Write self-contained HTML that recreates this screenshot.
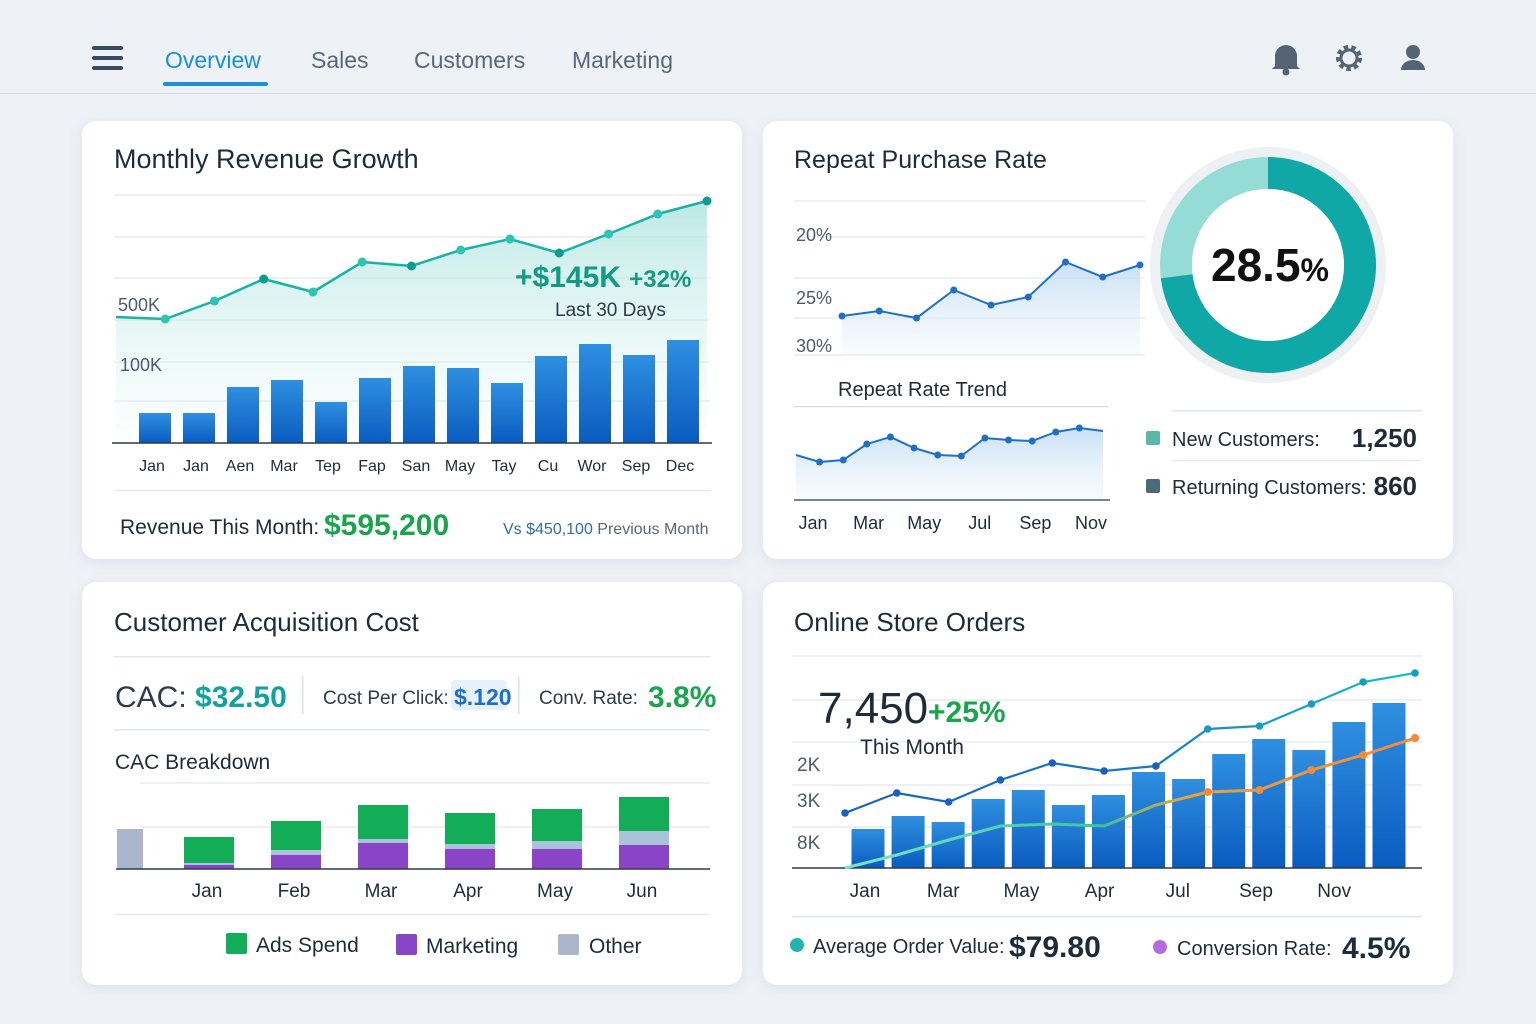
<!DOCTYPE html>
<html><head><meta charset="utf-8"><style>
html,body{margin:0;padding:0;width:1536px;height:1024px;overflow:hidden;background:#eef1f6;font-family:"Liberation Sans",sans-serif}
svg text{font-family:"Liberation Sans",sans-serif}
</style></head><body>
<svg id="s" width="1536" height="1024" viewBox="0 0 1536 1024" xmlns="http://www.w3.org/2000/svg">
<defs>
<filter id="sh" x="-5%" y="-5%" width="110%" height="115%"><feDropShadow dx="0" dy="3" stdDeviation="6" flood-color="#8a9ab5" flood-opacity="0.18"/></filter>
<linearGradient id="bar" x1="0" y1="0" x2="0" y2="1"><stop offset="0" stop-color="#2f8fe0"/><stop offset="1" stop-color="#0a5cc0"/></linearGradient>
<linearGradient id="tealArea" x1="0" y1="0" x2="0" y2="1"><stop offset="0" stop-color="#9fe0da" stop-opacity="0.7"/><stop offset="1" stop-color="#e6f6f5" stop-opacity="0.2"/></linearGradient>
<linearGradient id="blueArea" x1="0" y1="0" x2="0" y2="1"><stop offset="0" stop-color="#b9d9f3" stop-opacity="0.8"/><stop offset="1" stop-color="#e8f2fb" stop-opacity="0.3"/></linearGradient>
<linearGradient id="ordLine2" gradientUnits="userSpaceOnUse" x1="845" y1="0" x2="1415" y2="0"><stop offset="0" stop-color="#7fe3c9"/><stop offset="0.45" stop-color="#3cc3a0"/><stop offset="0.6" stop-color="#e9a23a"/><stop offset="1" stop-color="#f28a3c"/></linearGradient>
<linearGradient id="ordLine1" gradientUnits="userSpaceOnUse" x1="845" y1="0" x2="1415" y2="0"><stop offset="0" stop-color="#1b5fc0"/><stop offset="0.5" stop-color="#1479c4"/><stop offset="1" stop-color="#19c2b8"/></linearGradient>
</defs>
<!-- nav -->
<g fill="#3a4a60"><rect x="92" y="46" width="31" height="4" rx="2"/><rect x="92" y="56" width="31" height="4" rx="2"/><rect x="92" y="66" width="31" height="4" rx="2"/></g>
<text x="165" y="68" font-size="23" fill="#1a8fd6">Overview</text>
<rect x="163" y="82" width="105" height="4" rx="2" fill="#1a8fd6"/>
<text x="311" y="68" font-size="23" fill="#5a6778">Sales</text>
<text x="414" y="68" font-size="23" fill="#5a6778">Customers</text>
<text x="572" y="68" font-size="23" fill="#5a6778">Marketing</text>
<g fill="#556377"><path d="M1275 66 L1275 56 A11 11 0 0 1 1297 56 L1297 66 L1300 69 L1272 69 Z"/><circle cx="1286" cy="72" r="3.5"/></g>
<g><circle cx="1349" cy="58" r="10" fill="none" stroke="#556377" stroke-width="6" stroke-dasharray="4 3"/><circle cx="1349" cy="58" r="8" fill="none" stroke="#556377" stroke-width="3"/></g>
<g fill="#556377"><circle cx="1413" cy="52" r="7"/><path d="M1401 70 A12 10 0 0 1 1425 70 Z"/></g>
<rect x="0" y="93" width="1536" height="1" fill="#d5dbe4"/>

<!-- cards -->
<rect x="82" y="121" width="660" height="438" rx="14" fill="#fff" filter="url(#sh)"/>
<rect x="763" y="121" width="690" height="438" rx="14" fill="#fff" filter="url(#sh)"/>
<rect x="82" y="582" width="660" height="403" rx="14" fill="#fff" filter="url(#sh)"/>
<rect x="763" y="582" width="690" height="403" rx="14" fill="#fff" filter="url(#sh)"/>

<!-- card 1 -->
<text x="114" y="168" font-size="27" fill="#1e2b3a">Monthly Revenue Growth</text>
<g id="revGrid" stroke="#e3e8ef" stroke-width="1.2"></g>
<g id="rev"></g>
<text x="118" y="311" font-size="18" fill="#4d5b6d">500K</text>
<text x="120" y="371" font-size="18" fill="#4d5b6d">100K</text>
<text x="515" y="287" font-size="30" font-weight="bold" fill="#129a85">+$145K <tspan font-size="24">+32%</tspan></text>
<text x="555" y="316" font-size="19" fill="#2c3a4c">Last 30 Days</text>
<rect x="114" y="490" width="597" height="1.2" fill="#e3e8ef"/>
<text x="120" y="534" font-size="21" fill="#1e2b3a">Revenue This Month:</text>
<text x="324" y="535" font-size="30" font-weight="bold" fill="#1aa44c">$595,200</text>
<text x="503" y="534" font-size="16" fill="#2f6f9a">Vs  $450,100  <tspan fill="#5a6778">Previous Month</tspan></text>

<!-- card 2 -->
<text x="794" y="168" font-size="25" fill="#1e2b3a">Repeat Purchase Rate</text>
<g id="repGrid" stroke="#e3e8ef" stroke-width="1.2"></g>
<g id="rep"></g>
<text x="796" y="241" font-size="18" fill="#4d5b6d">20%</text>
<text x="796" y="304" font-size="18" fill="#4d5b6d">25%</text>
<text x="796" y="352" font-size="18" fill="#4d5b6d">30%</text>
<text x="838" y="396" font-size="20" fill="#1e2b3a">Repeat Rate Trend</text>
<rect x="794" y="406" width="315" height="1.2" fill="#d9dfe7"/>
<g id="trend"></g>
<g>
<circle cx="1268" cy="265" r="113" fill="none" stroke="#eef1f4" stroke-width="10"/>
<circle id="donutBg" cx="1268" cy="265" r="92" fill="none" stroke="#95dcd7" stroke-width="32"/>
<circle id="donutArc" cx="1268" cy="265" r="92" fill="none" stroke="#10a8a6" stroke-width="32" transform="rotate(-90 1268 265)"/>
<circle cx="1268" cy="265" r="76" fill="#fff"/>
</g>
<text x="1270" y="281" font-size="46" font-weight="bold" fill="#111" text-anchor="middle">28.5<tspan font-size="32">%</tspan></text>
<rect x="1172" y="410" width="250" height="1.5" fill="#e3e8ef"/>
<rect x="1172" y="460" width="250" height="1.2" fill="#e3e8ef"/>
<rect x="1146" y="431" width="14" height="14" rx="2" fill="#5bb8a8"/>
<text x="1172" y="446" font-size="20" fill="#1e2b3a">New Customers:</text>
<text x="1417" y="447" font-size="26" font-weight="bold" fill="#1e2b3a" text-anchor="end">1,250</text>
<rect x="1146" y="479" width="14" height="14" rx="2" fill="#4a6b78"/>
<text x="1172" y="494" font-size="20" fill="#1e2b3a">Returning Customers:</text>
<text x="1417" y="495" font-size="26" font-weight="bold" fill="#1e2b3a" text-anchor="end">860</text>

<!-- card 3 -->
<text x="114" y="631" font-size="26" fill="#1e2b3a">Customer Acquisition Cost</text>
<rect x="114" y="656" width="596" height="1.5" fill="#e3e8ef"/>
<text x="115" y="707" font-size="30" fill="#2c3a4c">CAC: <tspan font-weight="bold" fill="#12a0a0">$32.50</tspan></text>
<rect x="302" y="676" width="1.5" height="38" fill="#dde3ea"/>
<text x="323" y="704" font-size="19" fill="#2c3a4c">Cost Per Click:</text>
<rect x="451" y="680" width="56" height="30" rx="4" fill="#e8f1fb"/>
<text x="454" y="705" font-size="23" font-weight="bold" fill="#1a6fc8">$.120</text>
<rect x="518" y="676" width="1.5" height="38" fill="#dde3ea"/>
<text x="539" y="704" font-size="19" fill="#2c3a4c">Conv. Rate:</text>
<text x="648" y="707" font-size="30" font-weight="bold" fill="#1aa44c">3.8%</text>
<rect x="114" y="729" width="596" height="1.5" fill="#e3e8ef"/>
<text x="115" y="769" font-size="21" fill="#1e2b3a">CAC Breakdown</text>
<g id="cacGrid" stroke="#e3e8ef" stroke-width="1.2"></g>
<g id="cac"></g>
<rect x="114" y="914" width="596" height="1.2" fill="#e3e8ef"/>
<rect x="226" y="933" width="21" height="21" rx="2" fill="#14ad57"/>
<text x="256" y="952" font-size="21" fill="#1e2b3a">Ads Spend</text>
<rect x="396" y="934" width="21" height="21" rx="2" fill="#8a44c8"/>
<text x="426" y="953" font-size="21" fill="#1e2b3a">Marketing</text>
<rect x="558" y="934" width="21" height="21" rx="2" fill="#a9b6cc"/>
<text x="589" y="953" font-size="21" fill="#1e2b3a">Other</text>

<!-- card 4 -->
<text x="794" y="631" font-size="26" fill="#1e2b3a">Online Store Orders</text>
<g id="ordGrid" stroke="#e3e8ef" stroke-width="1.2"></g>
<g id="ord"></g>
<text x="818" y="723" font-size="44" fill="#1e2b3a">7,450</text>
<text x="928" y="722" font-size="30" font-weight="bold" fill="#1aa44c">+25%</text>
<text x="860" y="754" font-size="21" fill="#1e2b3a">This Month</text>
<text x="797" y="771" font-size="19" fill="#4d5b6d">2K</text>
<text x="797" y="807" font-size="19" fill="#4d5b6d">3K</text>
<text x="797" y="849" font-size="19" fill="#4d5b6d">8K</text>
<rect x="792" y="916" width="630" height="1.5" fill="#e3e8ef"/>
<circle cx="797" cy="945" r="7" fill="#22b5ad"/>
<text x="813" y="953" font-size="20" fill="#1e2b3a">Average Order Value:</text>
<text x="1009" y="957" font-size="30" font-weight="bold" fill="#1e2b3a">$79.80</text>
<circle cx="1160" cy="947" r="7" fill="#b46ae0"/>
<text x="1177" y="955" font-size="20" fill="#1e2b3a">Conversion Rate:</text>
<text x="1342" y="958" font-size="30" font-weight="bold" fill="#1e2b3a">4.5%</text>
</svg>
<script>
// Revenue chart data
const revMonths = ["Jan","Jan","Aen","Mar","Tep","Fap","San","May","Tay","Cu","Wor","Sep","Dec"];
const revBars = [30,30,56,63,41,65,77,75,60,87,99,88,103];
const revLine = [3,1,19,41,28,58,54,70,81,67,86,106,119];
// Repeat purchase data
const repLine = [39,44,37,65,50,58,93,78,90];
const trendVals = [45,38,40,56,63,52,45,44,62,60,59,68,72,69];
const trendLabels = ["Jan","Mar","May","Jul","Sep","Nov"];
const donutPct = 73;
// CAC data
const cacMonths = ["Jan","Feb","Mar","Apr","May","Jun"];
const cacAds = [26,29,34,31,32,34];
const cacOther = [2,5,4,5,8,14];
const cacMarketing = [4,14,26,20,20,24];
const cacBaselineOther = 40;
// Orders data
const ordBars = [39,52,46,69,78,63,73,96,89,114,129,118,146,165];
const ordLine1 = [55,75,66,88,105,97,102,139,142,164,186,195];
const ordLine2 = [0,13,28,42,44,42,63,76,78,98,113,130];
const ordLabels = ["Jan","Mar","May","Apr","Jul","Sep","Nov"];

const NS="http://www.w3.org/2000/svg";
function mk(parent,tag,attrs,txt){const e=document.createElementNS(NS,tag);for(const k in attrs)e.setAttribute(k,attrs[k]);if(txt!==undefined)e.textContent=txt;parent.appendChild(e);return e;}
const $=id=>document.getElementById(id);

// ---- Revenue
const xRevBar=i=>155+i*44, yRevBar=v=>443-v;
const xRevLine=i=>116+i*(591/12), yRevLine=v=>320-v;
[195,237,278,320,362,401].forEach(y=>mk($('revGrid'),'line',{x1:114,x2:710,y1:y,y2:y}));
{const g=$('rev');
let pts=revLine.map((v,i)=>xRevLine(i)+','+yRevLine(v));
const area=mk(g,'polygon',{points:pts.join(' ')+' 707,430 116,430',fill:'url(#tealArea)'});


revBars.forEach((v,i)=>{const r=mk(g,'rect',{x:xRevBar(i)-16,y:yRevBar(v),width:32,height:v,fill:'url(#bar)'});


const t=mk(g,'text',{x:xRevBar(i)-3,y:471,'font-size':16,fill:'#1e2b3a','text-anchor':'middle'},revMonths[i]);

});
mk(g,'line',{x1:112,x2:712,y1:443,y2:443,stroke:'#2c3a4c','stroke-width':1.5});
const pl=mk(g,'polyline',{points:pts.join(' '),fill:'none',stroke:'#19b3a6','stroke-width':2.5});


revLine.forEach((v,i)=>{if(i===0)return;const c=mk(g,'circle',{cx:xRevLine(i),cy:yRevLine(v),r:4.5,fill:i%3===0?'#0e9b8e':'#2cc5b5'});

});}

// ---- Repeat
const xRep=i=>842+i*(298/8), yRep=v=>355-v;
[201,237,278,318,355].forEach(y=>mk($('repGrid'),'line',{x1:794,x2:1145,y1:y,y2:y}));
{const g=$('rep');const pts=repLine.map((v,i)=>xRep(i)+','+yRep(v));
const a=mk(g,'polygon',{points:pts.join(' ')+' 1140,355 842,355',fill:'url(#blueArea)'});


const l=mk(g,'polyline',{points:pts.join(' '),fill:'none',stroke:'#1f6fc8','stroke-width':2});


repLine.forEach((v,i)=>{const c=mk(g,'circle',{cx:xRep(i),cy:yRep(v),r:3.5,fill:'#1f6fc8'});

});}
const xTr=i=>796+i*(307/13), yTr=v=>500-v;
{const g=$('trend');const pts=trendVals.map((v,i)=>xTr(i)+','+yTr(v));
const a=mk(g,'polygon',{points:pts.join(' ')+' 1103,500 796,500',fill:'url(#blueArea)'});


mk(g,'line',{x1:794,x2:1110,y1:500,y2:500,stroke:'#2c3a4c','stroke-width':1.2});
const l=mk(g,'polyline',{points:pts.join(' '),fill:'none',stroke:'#1f6fc8','stroke-width':2});


trendVals.forEach((v,i)=>{if(i===0||i===trendVals.length-1)return;const c=mk(g,'circle',{cx:xTr(i),cy:yTr(v),r:3.5,fill:'#1f6fc8'});

});
trendLabels.forEach((t,i)=>{const e=mk(g,'text',{x:813+i*55.6,y:529,'font-size':18,fill:'#1e2b3a','text-anchor':'middle'},t);

});}
{const C=2*Math.PI*92;$('donutArc').setAttribute('stroke-dasharray',(C*donutPct/100)+' '+C);}

// ---- CAC
const xCac=i=>209+i*87, yCac=v=>869-v;
[783,827].forEach(y=>mk($('cacGrid'),'line',{x1:140,x2:710,y1:y,y2:y}));
{const g=$('cac');
const ob=mk(g,'rect',{x:117,y:yCac(cacBaselineOther),width:26,height:cacBaselineOther,fill:'#a9b6cc'});


cacMonths.forEach((m,i)=>{let y0=869;
[[cacMarketing[i],'#8a44c8','marketing'],[cacOther[i],'#a9c4d8','other'],[cacAds[i],'#14ad57','ads']].forEach(([v,c,n])=>{
const r=mk(g,'rect',{x:xCac(i)-25,y:y0-v,width:50,height:v,fill:c});


y0-=v;});
const t=mk(g,'text',{x:xCac(i)-2,y:897,'font-size':19,fill:'#1e2b3a','text-anchor':'middle'},m);

});
mk(g,'line',{x1:116,x2:710,y1:869,y2:869,stroke:'#2c3a4c','stroke-width':1.5});}

// ---- Orders
const xOrd=i=>868+i*(521/13), yOrd=v=>868-v;
const xOL=i=>845+i*(570/11);
[656,700,742,785,827].forEach(y=>mk($('ordGrid'),'line',{x1:792,x2:1422,y1:y,y2:y}));
{const g=$('ord');
ordBars.forEach((v,i)=>{const r=mk(g,'rect',{x:xOrd(i)-16.5,y:yOrd(v),width:33,height:v,fill:'url(#bar)'});

});
mk(g,'line',{x1:792,x2:1422,y1:868,y2:868,stroke:'#2c3a4c','stroke-width':1.5});
const l2=mk(g,'polyline',{points:ordLine2.map((v,i)=>xOL(i)+','+yOrd(v)).join(' '),fill:'none',stroke:'url(#ordLine2)','stroke-width':3});


ordLine2.forEach((v,i)=>{if(i<7)return;const c=mk(g,'circle',{cx:xOL(i),cy:yOrd(v),r:4,fill:'#f28a3c'});

});
const l1=mk(g,'polyline',{points:ordLine1.map((v,i)=>xOL(i)+','+yOrd(v)).join(' '),fill:'none',stroke:'url(#ordLine1)','stroke-width':2.2});


ordLine1.forEach((v,i)=>{const c=mk(g,'circle',{cx:xOL(i),cy:yOrd(v),r:3.8,fill:i>6?'#139fbf':'#1b5fc0'});

});
ordLabels.forEach((t,i)=>{const e=mk(g,'text',{x:865+i*78.2,y:897,'font-size':19,fill:'#1e2b3a','text-anchor':'middle'},t);

});}
</script>
</body></html>
